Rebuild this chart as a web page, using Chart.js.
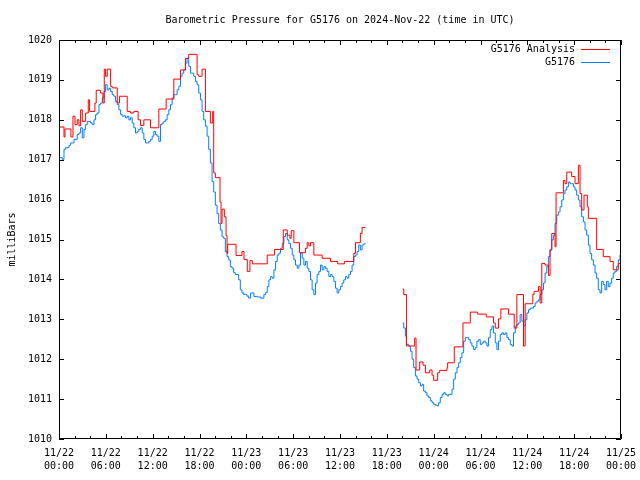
<!DOCTYPE html>
<html>
<head>
<meta charset="utf-8">
<script src="https://cdn.jsdelivr.net/npm/chart.js@4/dist/chart.umd.min.js"></script>
<style>
html,body{margin:0;padding:0;background:#fff;}
#wrap{width:640px;height:480px;}
</style>
</head>
<body>
<div id="wrap"><canvas id="c" width="640" height="480"></canvas></div>
<script>
// ---- data (hours since 2024-11-22 00:00 UTC) ----
const chartTitle = "Barometric Pressure for G5176 on 2024-Nov-22 (time in UTC)";
const yAxisTitle = "milliBars";
const seriesNames = ["G5176 Analysis", "G5176"];
const dayLabels = ["11/22", "11/23", "11/24", "11/25"];
const hourLabels = ["00:00", "06:00", "12:00", "18:00"];

const analysisHours = [0.00,0.64,0.77,1.53,1.79,2.05,2.34,2.56,2.77,2.98,3.41,3.75,3.92,4.60,4.77,5.33,5.63,5.80,5.97,6.18,6.61,6.82,7.46,7.76,8.74,9.16,9.59,10.14,10.44,10.87,11.72,12.79,13.73,14.71,15.56,16.20,16.62,17.69,17.90,18.33,18.76,19.39,19.69,19.82,20.03,20.63,20.76,20.89,21.18,21.40,21.53,21.61,22.68,23.44,23.70,24.12,24.46,24.76,26.68,27.62,28.73,29.24,29.58,29.75,30.09,30.81,31.58,31.80,32.01,32.22,32.65,33.71,34.78,35.71,36.57,37.76,37.98,38.61,38.83,39.25,
  41.50,
  44.04,44.17,44.51,45.57,45.74,46.21,46.64,46.94,47.49,47.79,48.00,48.51,48.77,49.71,49.79,50.64,51.75,52.69,53.63,54.74,55.67,55.89,56.31,56.61,57.59,58.32,58.66,59.51,59.72,60.70,60.87,61.43,61.64,61.85,62.27,62.70,62.91,63.13,63.55,63.68,64.62,64.83,65.05,65.68,66.11,66.54,66.75,66.96,67.26,67.69,67.82,68.88,69.73,70.59,71.01,71.65,72.00];
const analysisValues = [1017.82,1017.57,1017.77,1017.57,1018.09,1017.88,1018.00,1017.85,1018.25,1017.96,1018.17,1018.50,1018.21,1018.42,1018.74,1018.67,1018.42,1019.27,1019.09,1019.27,1018.84,1018.80,1018.42,1018.59,1018.21,1018.17,1018.21,1018.00,1017.86,1018.00,1017.80,1018.27,1018.52,1019.02,1019.25,1019.54,1019.64,1019.13,1019.09,1019.27,1018.21,1017.92,1018.21,1016.67,1016.55,1015.94,1015.40,1015.76,1015.57,1015.10,1014.65,1014.88,1014.60,1014.70,1014.50,1014.20,1014.47,1014.39,1014.61,1014.75,1015.24,1015.11,1015.03,1015.22,1014.92,1014.67,1014.78,1014.92,1014.84,1014.92,1014.61,1014.53,1014.45,1014.39,1014.45,1014.65,1014.92,1015.15,1015.30,1015.30,
  null,
  1013.76,1013.62,1012.33,1012.53,1011.73,1011.93,1011.85,1011.66,1011.73,1011.60,1011.47,1011.66,1011.72,1011.79,1011.91,1012.31,1012.91,1013.18,1013.13,1013.06,1012.91,1012.78,1013.01,1013.26,1013.13,1012.78,1013.62,1012.33,1013.39,1013.62,1013.70,1013.82,1013.41,1014.40,1014.36,1014.10,1014.74,1015.15,1014.82,1016.17,1016.48,1016.40,1016.69,1016.58,1016.40,1016.86,1016.15,1015.74,1016.11,1015.82,1015.53,1014.75,1014.57,1014.45,1014.24,1014.40,1014.40];

const stationHours = [0.00,0.43,0.64,0.85,1.28,1.49,1.92,2.34,2.56,2.77,2.98,3.20,3.41,3.62,4.05,4.26,4.48,4.69,4.90,5.12,5.33,5.54,5.75,5.97,6.18,6.39,6.61,6.82,7.03,7.25,7.46,7.67,7.89,8.10,8.31,8.53,8.74,8.95,9.16,9.38,9.59,9.80,10.02,10.23,10.44,10.66,10.87,11.08,11.30,11.51,11.72,11.94,12.15,12.36,12.57,12.79,13.00,13.21,13.43,13.64,13.85,14.07,14.28,14.49,14.71,14.92,15.13,15.35,15.56,15.77,15.98,16.20,16.41,16.62,16.84,17.05,17.26,17.48,17.69,17.90,18.12,18.33,18.54,18.76,18.97,19.18,19.39,19.61,19.82,20.03,20.25,20.46,20.67,20.89,21.10,21.31,21.53,21.74,21.95,22.17,22.38,22.59,22.80,23.02,23.23,23.44,23.66,23.87,24.08,24.30,24.55,24.98,25.40,25.83,26.25,26.47,26.68,26.89,27.11,27.32,27.53,27.75,27.96,28.17,28.38,28.60,28.81,29.02,29.24,29.45,29.66,29.88,30.09,30.30,30.52,30.73,30.94,31.16,31.37,31.58,31.80,32.01,32.22,32.43,32.65,32.86,33.07,33.29,33.50,33.71,33.93,34.14,34.35,34.57,34.78,34.99,35.21,35.42,35.63,35.84,36.06,36.27,36.48,36.70,36.91,37.12,37.34,37.55,37.76,37.98,38.19,38.40,38.61,38.83,39.04,39.25,
  41.50,
  44.04,44.17,44.38,44.51,44.80,45.02,45.23,45.44,45.66,45.87,46.08,46.30,46.51,46.72,46.94,47.15,47.36,47.58,47.79,48.00,48.21,48.43,48.64,48.85,49.07,49.28,49.49,49.71,49.92,50.13,50.35,50.56,50.77,50.99,51.20,51.41,51.62,51.84,52.05,52.26,52.48,52.69,52.90,53.12,53.33,53.54,53.76,53.97,54.18,54.40,54.61,54.82,55.03,55.25,55.46,55.67,55.89,56.10,56.31,56.53,56.74,56.95,57.17,57.38,57.59,57.81,58.02,58.23,58.45,58.66,58.87,59.08,59.30,59.51,59.72,59.94,60.15,60.36,60.58,60.79,61.00,61.22,61.43,61.64,61.85,62.07,62.27,62.49,62.70,62.91,63.13,63.34,63.55,63.77,63.98,64.19,64.41,64.62,64.83,65.05,65.26,65.47,65.68,65.90,66.11,66.32,66.54,66.75,66.96,67.18,67.39,67.60,67.82,68.03,68.24,68.46,68.67,68.88,69.09,69.31,69.52,69.73,69.95,70.16,70.37,70.59,70.80,71.01,71.23,71.44,71.65,71.87,72.00];
const stationValues = [1017.05,1017.01,1017.26,1017.30,1017.36,1017.42,1017.51,1017.63,1017.67,1017.80,1017.55,1017.76,1017.88,1017.96,1017.92,1017.88,1018.00,1018.13,1018.17,1018.38,1018.42,1018.55,1018.71,1018.88,1018.75,1018.79,1018.71,1018.63,1018.59,1018.46,1018.38,1018.25,1018.13,1018.09,1018.10,1018.05,1018.09,1018.00,1018.05,1017.92,1017.80,1017.67,1017.71,1017.76,1017.80,1017.67,1017.51,1017.42,1017.42,1017.46,1017.51,1017.59,1017.71,1017.63,1017.59,1017.46,1017.88,1017.92,1017.96,1018.00,1018.13,1018.25,1018.38,1018.55,1018.63,1018.63,1018.75,1018.84,1019.09,1019.17,1019.25,1019.42,1019.54,1019.34,1019.17,1019.17,1019.09,1018.96,1018.88,1018.67,1018.50,1018.21,1018.00,1017.84,1017.59,1017.26,1016.92,1016.45,1016.19,1015.86,1015.65,1015.40,1015.24,1015.07,1015.03,1014.70,1014.57,1014.49,1014.32,1014.28,1014.17,1014.12,1014.12,1013.99,1013.74,1013.66,1013.62,1013.62,1013.58,1013.53,1013.66,1013.57,1013.56,1013.53,1013.62,1013.67,1013.82,1013.99,1014.07,1014.03,1014.24,1014.45,1014.61,1014.66,1014.78,1014.90,1015.07,1015.15,1014.99,1014.90,1014.78,1014.61,1014.49,1014.36,1014.28,1014.36,1014.66,1014.53,1014.36,1014.45,1014.28,1014.20,1013.99,1013.74,1013.62,1013.91,1014.12,1014.20,1014.36,1014.24,1014.32,1014.28,1014.20,1014.07,1014.12,1014.07,1013.95,1013.78,1013.66,1013.74,1013.82,1013.91,1013.99,1014.07,1014.03,1014.12,1014.20,1014.36,1014.57,1014.61,1014.70,1014.86,1014.74,1014.86,1014.89,1014.90,
  null,
  1012.91,1012.78,1012.58,1012.37,1012.33,1012.20,1012.00,1011.79,1011.58,1011.50,1011.41,1011.33,1011.37,1011.20,1011.16,1011.08,1011.04,1010.96,1010.91,1010.87,1010.85,1010.83,1010.91,1011.04,1011.12,1011.16,1011.12,1011.08,1011.12,1011.12,1011.25,1011.50,1011.66,1011.79,1011.91,1012.04,1012.16,1012.45,1012.54,1012.54,1012.49,1012.41,1012.33,1012.24,1012.29,1012.45,1012.49,1012.37,1012.41,1012.45,1012.41,1012.33,1012.54,1012.74,1012.83,1012.66,1012.41,1012.24,1012.45,1012.62,1012.66,1012.62,1012.66,1012.54,1012.49,1012.37,1012.33,1012.66,1012.83,1012.87,1012.91,1013.12,1012.95,1012.83,1012.99,1013.16,1013.24,1013.28,1013.28,1013.32,1013.41,1013.45,1013.49,1013.62,1013.74,1013.91,1014.16,1014.32,1014.57,1014.74,1014.99,1015.11,1015.40,1015.61,1015.69,1015.82,1015.99,1016.15,1016.24,1016.32,1016.44,1016.40,1016.40,1016.32,1016.24,1016.11,1015.99,1015.82,1015.57,1015.44,1015.24,1015.11,1014.86,1014.65,1014.49,1014.36,1014.16,1014.03,1013.74,1013.66,1013.95,1013.87,1013.74,1013.95,1013.82,1013.91,1014.03,1014.16,1014.20,1014.32,1014.49,1014.61,1014.65];

const xMin = 0, xMax = 72, majorStep = 6, minorStep = 2;
const yMin = 1010, yMax = 1020, yStep = 1;
const colors = ["#ff0000", "#0080ff"];

function pts(hs, vs){ return hs.map((h,i)=>({x:h, y:vs[i]})); }

const FONT = "'DejaVu Sans Mono', 'Liberation Mono', monospace";
Chart.defaults.font.family = FONT;
Chart.defaults.font.size = 10;
Chart.defaults.color = "#000";

const framePlugin = {
  id: 'frame',
  afterDraw(chart){
    const ctx = chart.ctx, a = chart.chartArea;
    const xs = chart.scales.x, ys = chart.scales.y;
    ctx.save();
    // title centred over the plot area
    ctx.font = "10px " + FONT;
    ctx.fillStyle = "#000";
    ctx.textAlign = "center";
    ctx.textBaseline = "middle";
    ctx.fillText(chartTitle, (a.left + a.right) / 2, 20);
    // frame + ticks
    ctx.strokeStyle = "#000";
    ctx.lineWidth = 1;
    ctx.beginPath();
    ctx.rect(Math.round(a.left)+0.5, Math.round(a.top)+0.5, Math.round(a.right-a.left)-1, Math.round(a.bottom-a.top)-1);
    ctx.stroke();
    ctx.beginPath();
    for (let h = xMin; h <= xMax; h += minorStep){
      const px = Math.round(xs.getPixelForValue(h)) + 0.5;
      const len = (h % majorStep === 0) ? 5 : 3;
      ctx.moveTo(px, a.bottom); ctx.lineTo(px, a.bottom - len);
      ctx.moveTo(px, a.top); ctx.lineTo(px, a.top + len);
    }
    for (let v = yMin; v <= yMax; v += yStep){
      const py = Math.round(ys.getPixelForValue(v)) + 0.5;
      ctx.moveTo(a.left, py); ctx.lineTo(a.left + 5, py);
      ctx.moveTo(a.right, py); ctx.lineTo(a.right - 5, py);
    }
    ctx.stroke();
    // legend
    ctx.textAlign = "right";
    chart.data.datasets.forEach((ds, i) => {
      const y = 49 + i * 13;
      ctx.fillStyle = "#000";
      ctx.fillText(ds.label, 575, y);
      ctx.strokeStyle = ds.borderColor;
      ctx.lineWidth = 1;
      ctx.beginPath();
      ctx.moveTo(581, y + 0.5); ctx.lineTo(610, y + 0.5);
      ctx.stroke();
    });
    ctx.restore();
  }
};

new Chart(document.getElementById('c'), {
  type: 'line',
  data: {
    datasets: [
      { label: seriesNames[0], data: pts(analysisHours, analysisValues), borderColor: colors[0], borderWidth: 1, pointRadius: 0, stepped: true, spanGaps: false, fill: false },
      { label: seriesNames[1], data: pts(stationHours, stationValues), borderColor: colors[1], borderWidth: 1, pointRadius: 0, stepped: true, spanGaps: false, fill: false }
    ]
  },
  options: {
    responsive: false,
    animation: false,
    devicePixelRatio: 1,
    layout: { padding: { left: 0, right: 19, top: 40, bottom: 0 } },
    plugins: {
      legend: { display: false },
      tooltip: { enabled: false },
      title: { display: false }
    },
    scales: {
      x: {
        type: 'linear', min: xMin, max: xMax,
        grid: { display: false, drawTicks: false },
        border: { display: false },
        afterFit(s){ s.height = 41; s.paddingLeft = 0; s.paddingRight = 0; },
        afterBuildTicks(s){ const t=[]; for(let h=xMin;h<=xMax;h+=majorStep) t.push({value:h}); s.ticks = t; },
        ticks: {
          autoSkip: false, maxRotation: 0, minRotation: 0, padding: 8,
          font: { size: 10, lineHeight: 1.3 },
          callback(v){ const d = Math.floor(v / 24); const hh = (v % 24) / 6; return [dayLabels[d], hourLabels[hh]]; }
        }
      },
      y: {
        min: yMin, max: yMax,
        grid: { display: false, drawTicks: false },
        border: { display: false },
        afterFit(s){ s.width = 59; s.paddingTop = 0; s.paddingBottom = 0; },
        ticks: { stepSize: yStep, padding: 7, font: { size: 10 }, callback(v){ return String(v); } },
        title: { display: true, text: yAxisTitle, font: { size: 10, lineHeight: 1.2 }, padding: { top: 6, bottom: 0 } }
      }
    }
  },
  plugins: [framePlugin]
});
</script>
</body>
</html>
